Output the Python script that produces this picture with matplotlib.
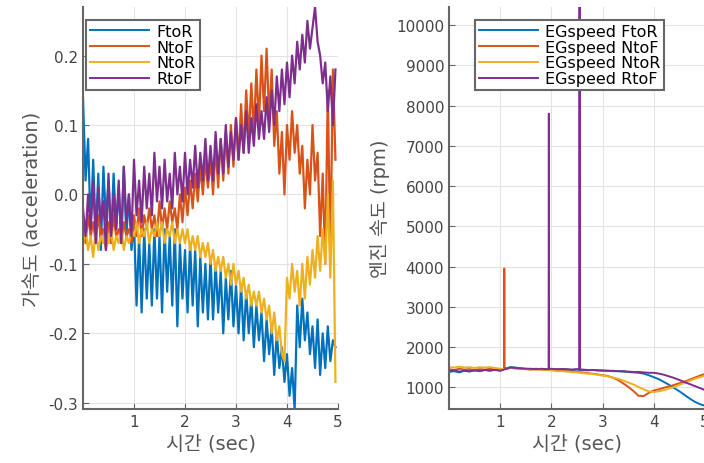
import matplotlib.pyplot as plt
import numpy as np

plt.rcParams['font.family'] = ['DejaVu Sans', 'Noto Sans CJK KR']

# left: acceleration, sampled every 0.05 s
t_acc = np.round(np.arange(100) * 0.05, 2)
acc_FtoR = [0.14, 0.02, 0.08, -0.05, 0.05, -0.06, 0.03, -0.08, 0.04, -0.04,
            0.02, -0.07, 0.03, -0.05, 0.01, -0.07, 0.04, -0.06, 0.00, -0.08,
            -0.04, -0.16, -0.06, -0.17, -0.05, -0.15, -0.07, -0.16, -0.05, -0.15,
            -0.06, -0.17, -0.05, -0.14, -0.06, -0.16, -0.05, -0.19, -0.07, -0.15,
            -0.08, -0.17, -0.07, -0.16, -0.08, -0.19, -0.09, -0.17, -0.10, -0.18,
            -0.09, -0.18, -0.10, -0.17, -0.11, -0.20, -0.12, -0.18, -0.11, -0.19,
            -0.13, -0.20, -0.13, -0.21, -0.14, -0.20, -0.15, -0.22, -0.16, -0.21,
            -0.17, -0.24, -0.18, -0.23, -0.19, -0.26, -0.20, -0.25, -0.22, -0.27,
            -0.23, -0.29, -0.25, -0.31, -0.16, -0.22, -0.15, -0.21, -0.17, -0.23,
            -0.19, -0.25, -0.18, -0.26, -0.20, -0.25, -0.19, -0.24, -0.21, -0.22]
acc_NtoF = [-0.05, -0.07, -0.03, -0.06, -0.04, -0.07, -0.03, -0.06, -0.05, -0.08,
            -0.04, -0.07, -0.03, -0.06, -0.05, -0.07, -0.04, -0.06, -0.05, -0.07,
            -0.03, -0.06, -0.02, -0.06, -0.03, -0.05, -0.02, -0.05, -0.03, -0.06,
            -0.01, -0.05, -0.02, -0.05, -0.01, -0.04, -0.02, -0.05, 0.00, -0.04,
            0.01, -0.03, 0.02, -0.02, 0.03, -0.01, 0.04, 0.00, 0.05, 0.01,
            0.05, 0.00, 0.07, 0.01, 0.08, 0.02, 0.09, 0.03, 0.10, 0.04,
            0.11, 0.05, 0.13, 0.06, 0.15, 0.08, 0.16, 0.09, 0.18, 0.10,
            0.20, 0.12, 0.21, 0.11, 0.18, 0.07, 0.12, 0.03, 0.09, 0.00,
            0.10, 0.05, 0.12, 0.06, 0.10, 0.03, 0.07, -0.02, 0.05, 0.00,
            0.10, 0.02, 0.06, -0.06, 0.03, -0.10, 0.15, -0.09, 0.18, 0.05]
acc_NtoR = [-0.07, -0.05, -0.08, -0.06, -0.09, -0.05, -0.08, -0.06, -0.07, -0.04,
            -0.07, -0.05, -0.08, -0.06, -0.07, -0.05, -0.08, -0.06, -0.07, -0.05,
            -0.06, -0.04, -0.07, -0.05, -0.06, -0.04, -0.07, -0.05, -0.06, -0.04,
            -0.06, -0.04, -0.07, -0.05, -0.06, -0.04, -0.07, -0.05, -0.07, -0.05,
            -0.07, -0.05, -0.08, -0.06, -0.08, -0.06, -0.09, -0.07, -0.09, -0.07,
            -0.10, -0.08, -0.11, -0.09, -0.11, -0.09, -0.12, -0.10, -0.13, -0.10,
            -0.13, -0.11, -0.14, -0.12, -0.15, -0.13, -0.16, -0.14, -0.16, -0.14,
            -0.17, -0.15, -0.18, -0.16, -0.20, -0.17, -0.21, -0.19, -0.23, -0.24,
            -0.12, -0.15, -0.10, -0.14, -0.11, -0.16, -0.10, -0.15, -0.09, -0.13,
            -0.08, -0.12, -0.06, -0.11, -0.05, -0.10, 0.00, -0.12, 0.02, -0.27]
acc_RtoF = [-0.02, -0.06, 0.00, -0.05, 0.02, -0.07, 0.01, -0.04, -0.01, -0.08,
            0.03, -0.06, 0.00, -0.05, 0.02, -0.07, 0.04, -0.04, 0.00, -0.06,
            0.05, -0.03, 0.02, -0.04, 0.04, -0.02, 0.03, -0.03, 0.06, -0.01,
            0.04, -0.02, 0.05, -0.01, 0.03, -0.02, 0.06, 0.00, 0.04, -0.01,
            0.06, 0.00, 0.05, 0.01, 0.07, 0.01, 0.06, 0.02, 0.08, 0.02,
            0.07, 0.02, 0.09, 0.03, 0.08, 0.03, 0.10, 0.04, 0.09, 0.05,
            0.11, 0.05, 0.10, 0.06, 0.12, 0.06, 0.11, 0.07, 0.13, 0.08,
            0.12, 0.08, 0.14, 0.09, 0.15, 0.10, 0.17, 0.12, 0.18, 0.13,
            0.19, 0.14, 0.20, 0.16, 0.22, 0.18, 0.23, 0.19, 0.25, 0.21,
            0.24, 0.27, 0.22, 0.20, 0.16, 0.19, 0.12, 0.17, 0.10, 0.18]

# right: engine speed, sampled every 0.1 s, plus spike samples
t_rpm = np.round(np.arange(51) * 0.1, 2)
rpm_FtoR = [1380, 1400, 1370, 1410, 1390, 1420, 1400, 1430, 1410, 1440,
            1420, 1470, 1500, 1490, 1470, 1460, 1450, 1460, 1450, 1440,
            1450, 1440, 1450, 1440, 1430, 1440, 1430, 1420, 1430, 1420,
            1410, 1410, 1400, 1400, 1390, 1380, 1370, 1360, 1340, 1300,
            1250, 1200, 1130, 1060, 980, 900, 810, 720, 640, 580, 540]
rpm_NtoF = [1450, 1430, 1460, 1440, 1450, 1430, 1450, 1440, 1460, 1440,
            1420, 1460, 1480, 1470, 1460, 1450, 1440, 1450, 1440, 1430,
            1430, 1420, 1420, 1400, 1390, 1380, 1370, 1350, 1340, 1320,
            1300, 1280, 1240, 1180, 1100, 1010, 910, 790, 780, 860,
            920, 950, 990, 1020, 1060, 1100, 1140, 1190, 1240, 1290, 1330]
rpm_NtoR = [1500, 1490, 1510, 1490, 1500, 1480, 1500, 1490, 1500, 1480,
            1460, 1450, 1480, 1470, 1460, 1450, 1450, 1440, 1440, 1430,
            1420, 1400, 1400, 1390, 1380, 1370, 1350, 1340, 1330, 1310,
            1290, 1270, 1240, 1210, 1170, 1120, 1070, 1010, 950, 900,
            880, 900, 930, 970, 1010, 1060, 1110, 1160, 1210, 1250, 1290]
rpm_RtoF = [1400, 1420, 1390, 1410, 1400, 1420, 1410, 1430, 1420, 1430,
            1410, 1450, 1490, 1480, 1470, 1460, 1460, 1450, 1460, 1450,
            1460, 1450, 1450, 1450, 1440, 1450, 1440, 1430, 1430, 1420,
            1420, 1410, 1410, 1400, 1400, 1390, 1380, 1380, 1370, 1360,
            1360, 1340, 1310, 1270, 1230, 1180, 1130, 1080, 1030, 980, 930]
spike_NtoF_t = [1.075, 1.08, 1.085]
spike_NtoF_v = [1450, 3950, 1460]
spike_RtoF_t = [1.945, 1.95, 1.955, 2.545, 2.55, 2.555]
spike_RtoF_v = [1450, 7800, 1460, 1440, 11000, 1440]

names = ['FtoR', 'NtoF', 'NtoR', 'RtoF']
colors = ['#0072BD', '#D95319', '#EDB120', '#7E2F8E']


def merge(t, v, st, sv):
    tt = np.concatenate([t, st])
    vv = np.concatenate([v, sv])
    order = np.argsort(tt, kind='stable')
    return tt[order], vv[order]


fig = plt.figure(figsize=(7.04, 4.64), dpi=100)
ax1 = fig.add_axes([83 / 704, 54 / 464, 255 / 704, 402 / 464])
ax2 = fig.add_axes([449 / 704, 54 / 464, 256 / 704, 402 / 464])

for name, c, y in zip(names, colors, [acc_FtoR, acc_NtoF, acc_NtoR, acc_RtoF]):
    ax1.plot(t_acc, y, color=c, lw=1.6, label=name)

rpm_series = [
    (t_rpm, np.array(rpm_FtoR)),
    merge(t_rpm, rpm_NtoF, spike_NtoF_t, spike_NtoF_v),
    (t_rpm, np.array(rpm_NtoR)),
    merge(t_rpm, rpm_RtoF, spike_RtoF_t, spike_RtoF_v),
]
for name, c, (tt, vv) in zip(names, colors, rpm_series):
    ax2.plot(tt, vv, color=c, lw=1.4, label='EGspeed ' + name)

ax1.set_xlim(0, 5)
ax1.set_ylim(-0.309, 0.27)
ax1.set_xticks([1, 2, 3, 4, 5])
ax1.set_yticks([-0.3, -0.2, -0.1, 0.0, 0.1, 0.2])
ax1.set_yticklabels(['-0.3', '-0.2', '-0.1', '0.0', '0.1', '0.2'])
ax1.set_xlabel('시간 (sec)', fontsize=14, color='#555555', labelpad=3)
ax1.set_ylabel('가속도 (acceleration)', fontsize=14, color='#555555', labelpad=4)

ax2.set_xlim(0, 5)
ax2.set_ylim(460, 10450)
ax2.set_xticks([1, 2, 3, 4, 5])
ax2.set_yticks(range(1000, 10001, 1000))
ax2.set_xlabel('시간 (sec)', fontsize=14, color='#555555', labelpad=3)
ax2.set_ylabel('엔진 속도 (rpm)', fontsize=14, color='#555555', labelpad=4)

for ax in (ax1, ax2):
    ax.grid(True, color='#e3e3e3', lw=0.8)
    ax.set_axisbelow(True)
    ax.spines['top'].set_visible(False)
    ax.spines['right'].set_visible(False)
    for s in ('left', 'bottom'):
        ax.spines[s].set_color('#666666')
        ax.spines[s].set_linewidth(1.5)
    ax.tick_params(direction='in', length=4, colors='#666666',
                   labelcolor='#444444', labelsize=11)

leg_kw = dict(loc='upper left', fontsize=11.5, frameon=True, fancybox=False,
              framealpha=1, edgecolor='#666666', handlelength=3.7,
              labelspacing=0.05, borderpad=0.25, handletextpad=0.45,
              borderaxespad=0)
l1 = ax1.legend(bbox_to_anchor=(0.012, 0.968), **leg_kw)
l2 = ax2.legend(bbox_to_anchor=(0.10, 0.968), **leg_kw)
for leg in (l1, l2):
    leg.get_frame().set_linewidth(1.5)
    for h in leg.get_lines():
        h.set_linewidth(1.4)

fig.savefig('out.png', dpi=100)
